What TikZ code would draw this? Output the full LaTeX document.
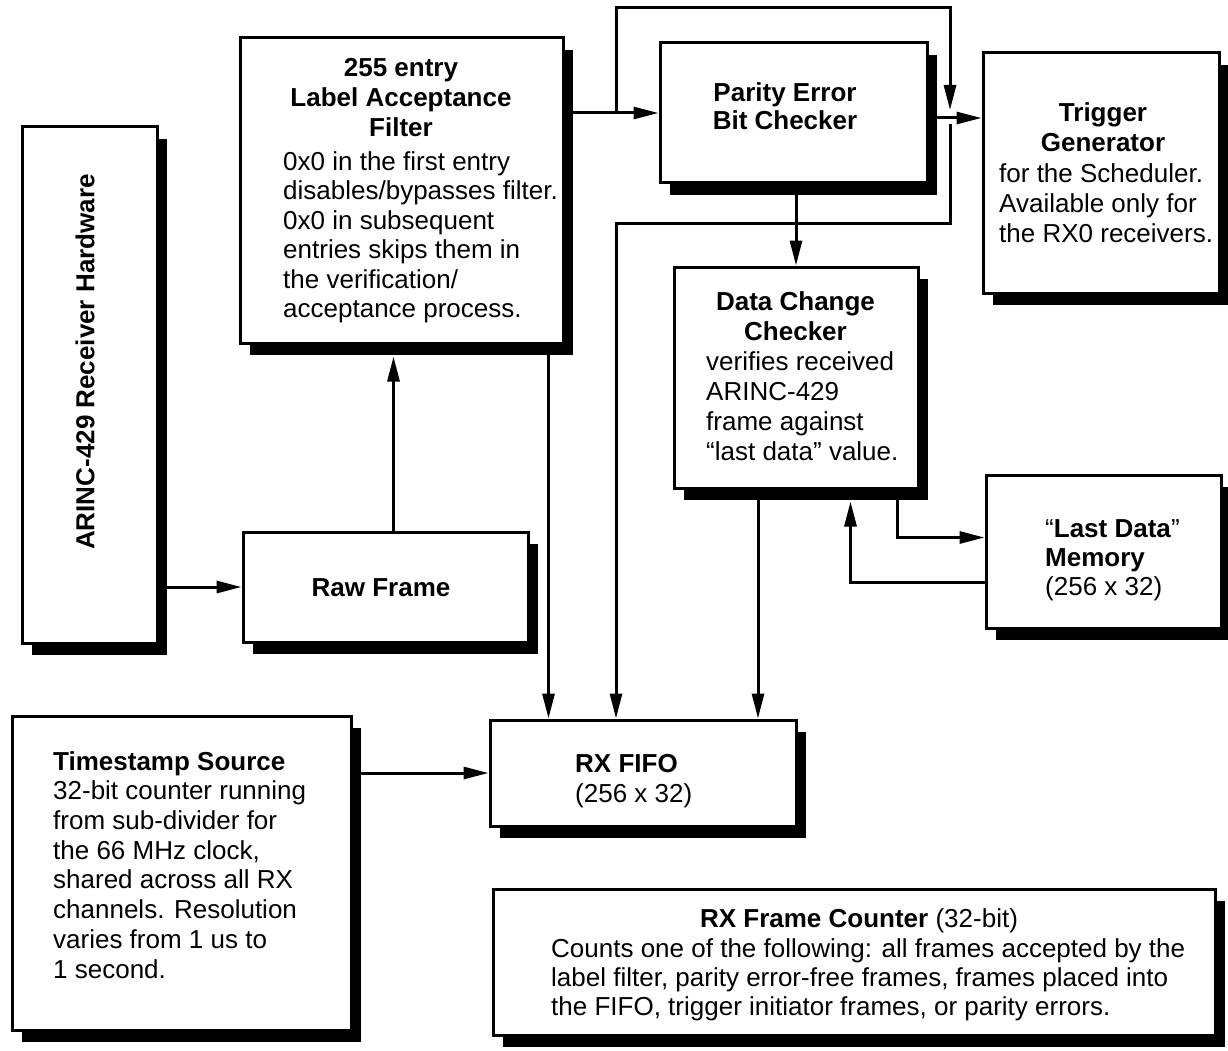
\documentclass[tikz,border=0pt]{standalone}
\usepackage{fontspec}
\setmainfont{Liberation Sans}
\usetikzlibrary{arrows.meta,shadows,positioning}
\begin{document}
\begin{tikzpicture}[x=1pt,y=-1pt,
    blk/.style={draw, line width=3pt, fill=white, inner sep=0pt,
      drop shadow={shadow xshift=10pt, shadow yshift=-12pt, fill=black, opacity=1}},
    txt/.style={inner sep=0pt, font=\fontsize{26}{29.5}\selectfont},
    hd/.style={inner sep=0pt, anchor=base, align=center, font=\fontsize{26}{30}\selectfont\bfseries},
    bd/.style={txt, anchor=base west, align=left},
    arr/.style={line width=3pt, -{Triangle[length=25pt,width=12pt]}}]
    \useasboundingbox (0,0) rectangle (1228,1051);
    % boxes
    \node[blk, minimum width=135, minimum height=516] (arinc) at (89.5,385) {};
    \node[blk, minimum width=285, minimum height=110] (raw) at (385.5,587) {};
    \node[blk, minimum width=323, minimum height=305] (filter) at (401.5,190.5) {};
    \node[blk, minimum width=267, minimum height=140] (parity) at (793.5,113) {};
    \node[blk, minimum width=236, minimum height=240] (trig) at (1101,173) {};
    \node[blk, minimum width=244, minimum height=221] (datachg) at (796,377.5) {};
    \node[blk, minimum width=235, minimum height=153] (mem) at (1103.5,551.5) {};
    \node[blk, minimum width=306, minimum height=106] (fifo) at (643,773) {};
    \node[blk, minimum width=339, minimum height=314] (ts) at (181.5,873) {};
    \node[blk, minimum width=722, minimum height=146] (cnt) at (854,962) {};
    % texts (base = last line)
    \node[txt, font=\fontsize{26}{30}\selectfont\bfseries, rotate=90] (arinclbl) at (85,362) {ARINC-429 Receiver Hardware};
    \node[hd] (rawlbl) at (381,596) {Raw Frame};
    \node[hd] (filterhd) at (401,137) {255 entry\\Label Acceptance\\Filter};
    \node[bd] (filterbd) at (283,317.5) {0x0 in the first entry\\disables/bypasses filter.\\0x0 in subsequent\\entries skips them in\\the verification/\\acceptance process.};
    \node[hd, font=\fontsize{26}{28}\selectfont\bfseries] (paritylbl) at (785,130) {Parity Error\\Bit Checker};
    \node[hd] (trighd) at (1103,152) {Trigger\\Generator};
    \node[bd, font=\fontsize{26}{30}\selectfont] (trigbd) at (999,242) {for the Scheduler.\\Available only for\\the RX0 receivers.};
    \node[hd] (datachghd) at (795.5,340) {Data Change\\Checker};
    \node[bd, font=\fontsize{26}{30}\selectfont] (datachgbd) at (706,460) {verifies received\\ARINC-429\\frame against\\“last data” value.};
    \node[bd, font=\fontsize{26}{29}\selectfont] (memlbl) at (1045,595) {“\textbf{Last Data}”\\\textbf{Memory}\\(256 x 32)};
    \node[bd, font=\fontsize{26}{30}\selectfont] (fifolbl) at (575,802) {\textbf{RX FIFO}\\(256 x 32)};
    \node[bd, font=\fontsize{26}{29.7}\selectfont] (tslbl) at (53,978) {\textbf{Timestamp Source}\\32-bit counter running\\from sub-divider for\\the 66 MHz clock,\\shared across all RX\\channels. Resolution\\varies from 1 us to\\1 second.};
    \node[inner sep=0pt, anchor=base, font=\fontsize{26}{29}\selectfont] (cnthd) at (859,927) {\textbf{RX Frame Counter} (32-bit)};
    \node[bd, font=\fontsize{26}{29}\selectfont] (cntbd) at (551,1015) {Counts one of the following: all frames accepted by the\\label filter, parity error-free frames, frames placed into\\the FIFO, trigger initiator frames, or parity errors.};
    % connectors
    \coordinate (tap) at ([xshift=-42pt]parity.west);
    \coordinate (pt) at ([yshift=-5pt]parity.east);
    \coordinate (over) at (950,8);
    \coordinate (back) at (616,223);
    \draw[arr] (arinc.east |- raw.west) -- (raw.west);
    \draw[arr] ([xshift=8pt]raw.north) -- ([xshift=8pt,yshift=-12pt]raw.north |- filter.south);
    \draw[arr] ([xshift=60pt]fifo.north west |- filter.south) -- ([xshift=60pt]fifo.north west);
    \draw[arr] (filter.east |- parity.west) -- (parity.west);
    \draw[arr] (tap) |- (over) -- ([yshift=8pt]over |- pt);
    \draw[arr] (pt) -- (pt -| trig.west);
    \draw[arr] ([yshift=-6pt]over |- pt) |- (back) -- (back |- fifo.north);
    \draw[arr] (parity.south -| datachg.north) -- (datachg.north);
    \draw[arr] ([xshift=-38pt]datachg.south) -- ([xshift=-38pt]datachg.south |- fifo.north);
    \draw[arr] ([xshift=-22pt]datachg.south east) |- ([yshift=14pt]mem.west);
    \draw[arr] ([yshift=-31pt]mem.west) -| ([xshift=-69pt,yshift=-12pt]datachg.south east);
    \draw[arr] (ts.east |- fifo.west) -- (fifo.west);
\end{tikzpicture}
\end{document}
